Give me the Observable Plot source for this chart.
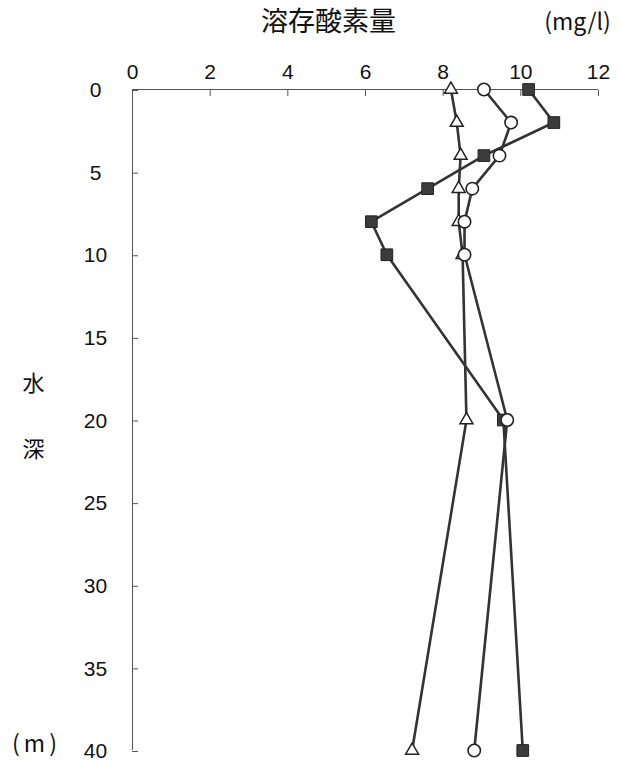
<!DOCTYPE html>
<html><head><meta charset="utf-8">
<script src="https://cdn.jsdelivr.net/npm/d3@7"></script>
<script src="https://cdn.jsdelivr.net/npm/@observablehq/plot@0.6"></script>
<style>body{margin:0;background:#fff}</style>
</head><body><div id="chart"></div>
<script>
const depths = [0, 2, 4, 6, 8, 10, 20, 40];
const squareDO = [10.2, 10.85, 9.05, 7.6, 6.15, 6.55, 9.55, 10.05];
const circleDO = [9.05, 9.75, 9.45, 8.75, 8.55, 8.55, 9.65, 8.8];
const triangleDO = [8.2, 8.35, 8.45, 8.4, 8.4, 8.5, 8.6, 7.2];
const xTicks = [0, 2, 4, 6, 8, 10, 12];
const yTicks = [0, 5, 10, 15, 20, 25, 30, 35, 40];
const titleText = "溶存酸素量";
const unitText = "(mg/l)";
const depthLabel = ["水", "深"];
const depthUnit = "(m)";

const rows = depths.map((d, i) => ({depth: d, sq: squareDO[i], ci: circleDO[i], tr: triangleDO[i]}));
const cjk = "'Noto Sans CJK JP', sans-serif";
const lineColor = "#333";

const chart = Plot.plot({
  width: 620, height: 761,
  marginLeft: 132, marginRight: 22, marginTop: 89, marginBottom: 11,
  x: {domain: [0, 12]},
  y: {domain: [0, 40], reverse: true},
  style: {fontFamily: "'Liberation Sans', Arial, sans-serif", fontSize: "21px", color: "#111", background: "#fff"},
  marks: [
    Plot.ruleY([0], {stroke: "#555", strokeWidth: 1}),
    Plot.ruleX([0], {stroke: "#555", strokeWidth: 1}),
    Plot.axisX(xTicks, {anchor: "top", tickSize: -6, tickPadding: 17, label: null, stroke: "#555", fontSize: 21}),
    Plot.axisY(yTicks, {anchor: "left", tickSize: -6, tickPadding: 43, textAnchor: "middle", dy: 1, label: null, stroke: "#555", fontSize: 21}),
    Plot.line(rows, {x: "tr", y: "depth", stroke: lineColor, strokeWidth: 2.6}),
    Plot.line(rows, {x: "sq", y: "depth", stroke: lineColor, strokeWidth: 2.6}),
    Plot.line(rows, {x: "ci", y: "depth", stroke: lineColor, strokeWidth: 2.6}),
    Plot.dot(rows, {x: "tr", y: "depth", symbol: "triangle", r: 4.8, fill: "white", stroke: "#222", strokeWidth: 1.5}),
    Plot.dot(rows, {x: "sq", y: "depth", symbol: "square", r: 6.6, fill: "#3c3c3c", stroke: "#222", strokeWidth: 1}),
    Plot.dot(rows, {x: "ci", y: "depth", symbol: "circle", r: 6.2, fill: "white", stroke: "#222", strokeWidth: 1.6}),
    Plot.text([titleText], {frameAnchor: "top-left", dx: 196, dy: -67, textAnchor: "middle", lineAnchor: "middle", fontSize: 27, fontFamily: cjk}),
    Plot.text([unitText], {frameAnchor: "top-left", dx: 445, dy: -67, textAnchor: "middle", lineAnchor: "middle", fontSize: 23, fontFamily: cjk}),
    Plot.text([depthLabel[0]], {frameAnchor: "top-left", dx: -99, dy: 294, textAnchor: "middle", lineAnchor: "middle", fontSize: 22, fontFamily: cjk}),
    Plot.text([depthLabel[1]], {frameAnchor: "top-left", dx: -99, dy: 360, textAnchor: "middle", lineAnchor: "middle", fontSize: 22, fontFamily: cjk}),
    Plot.text([depthUnit], {frameAnchor: "top-left", dx: -96, dy: 655, textAnchor: "middle", lineAnchor: "middle", fontSize: 23, fontFamily: cjk})
  ]
});
d3.select(chart).selectAll("text").filter(function() { return this.textContent === depthUnit; }).attr("letter-spacing", "4px");
document.getElementById("chart").appendChild(chart);
</script>
</body></html>
